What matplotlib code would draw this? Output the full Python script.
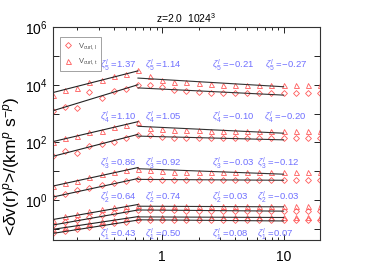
import numpy as np
import matplotlib
matplotlib.use('Agg')
import matplotlib.pyplot as plt
from matplotlib.ticker import LogLocator, NullFormatter, NullLocator

plt.rcParams['font.family'] = 'Liberation Sans'
plt.rcParams['mathtext.fontset'] = 'custom'
plt.rcParams['mathtext.rm'] = 'Liberation Sans'
plt.rcParams['mathtext.it'] = 'Liberation Sans:italic'
plt.rcParams['mathtext.bf'] = 'Liberation Sans:bold'

# separation r, log spaced bins
r = [0.126, 0.158, 0.200, 0.251, 0.316, 0.398, 0.501, 0.631, 0.794, 1.00, 1.26,
     1.58, 2.00, 2.51, 3.16, 3.98, 5.01, 6.31, 7.94, 10.0, 12.6, 15.8, 20.0]

# log10 <dv^p>, longitudinal (diamonds) and transverse (triangles)
sl5 = [3.10, 3.24, 3.20, 3.76, 3.54, 3.77, 3.85, 3.99, 3.99, 3.91, 3.83, 3.77,
       3.74, 3.72, 3.71, 3.71, 3.71, 3.71, 3.71, 3.71, 3.71, 3.71, 3.71]
st5 = [3.66, 3.82, 3.89, 4.08, 4.16, 4.31, 4.37, 4.51, 4.31, 4.16, 4.10, 4.08,
       4.06, 4.02, 4.00, 4.00, 3.98, 3.98, 3.98, 3.98, 3.98, 3.98, 4.00]
sl4 = [1.52, 1.72, 1.65, 1.88, 1.95, 2.03, 2.16, 2.27, 2.25, 2.20, 2.17, 2.15,
       2.15, 2.15, 2.14, 2.14, 2.14, 2.14, 2.14, 2.14, 2.14, 2.14, 2.14]
st4 = [2.01, 2.16, 2.24, 2.36, 2.41, 2.55, 2.61, 2.72, 2.51, 2.47, 2.44, 2.42,
       2.42, 2.41, 2.41, 2.41, 2.40, 2.40, 2.40, 2.40, 2.40, 2.40, 2.40]
sl3 = [0.11, 0.23, 0.34, 0.42, 0.52, 0.60, 0.67, 0.75, 0.72, 0.71, 0.70, 0.69,
       0.69, 0.69, 0.69, 0.69, 0.69, 0.69, 0.69, 0.69, 0.69, 0.69, 0.69]
st3 = [0.49, 0.61, 0.66, 0.81, 0.89, 0.96, 1.03, 1.09, 1.03, 1.01, 0.98, 0.96,
       0.96, 0.96, 0.96, 0.96, 0.96, 0.96, 0.96, 0.96, 0.96, 0.96, 0.96]
sl2 = [-0.86, -0.77, -0.68, -0.60, -0.52, -0.45, -0.38, -0.33, -0.33, -0.34, -0.35, -0.36,
       -0.36, -0.36, -0.36, -0.36, -0.36, -0.36, -0.36, -0.36, -0.36, -0.36, -0.36]
st2 = [-0.67, -0.56, -0.47, -0.38, -0.31, -0.25, -0.19, -0.15, -0.19, -0.20, -0.21, -0.21,
       -0.21, -0.21, -0.21, -0.21, -0.21, -0.21, -0.21, -0.21, -0.21, -0.21, -0.21]
sl1 = [-1.15, -1.07, -1.00, -0.93, -0.86, -0.80, -0.74, -0.69, -0.67, -0.67, -0.67, -0.67,
       -0.67, -0.67, -0.67, -0.67, -0.67, -0.67, -0.67, -0.67, -0.67, -0.67, -0.67]
st1 = [-1.01, -0.94, -0.86, -0.79, -0.73, -0.67, -0.62, -0.57, -0.57, -0.58, -0.58, -0.58,
       -0.58, -0.58, -0.58, -0.58, -0.58, -0.58, -0.58, -0.58, -0.58, -0.58, -0.58]

# broken power-law fits: [start, break] on r_fit1, [break, end] on r_fit2 (log10)
r_fit1 = [0.126, 0.631]
r_fit2 = [0.631, 10.0]
fl5 = [3.10, 4.00, 3.89, 3.64]
ft5 = [3.73, 4.48, 4.23, 3.93]
fl4 = [1.52, 2.28, 2.22, 2.09]
ft4 = [2.03, 2.72, 2.56, 2.32]
fl3 = [0.11, 0.75, 0.72, 0.69]
ft3 = [0.49, 1.13, 1.09, 0.90]
fl2 = [-0.86, -0.34, -0.34, -0.38]
ft2 = [-0.67, -0.15, -0.21, -0.23]
fl1 = [-1.15, -0.69, -0.68, -0.72]
ft1 = [-1.01, -0.57, -0.58, -0.60]

# fitted exponents quoted on the plot
zeta5 = [1.37, 1.14, -0.21, -0.27]
zeta4 = [1.10, 1.05, -0.10, -0.20]
zeta3 = [0.86, 0.92, -0.03, -0.12]
zeta2 = [0.64, 0.74, 0.03, -0.03]
zeta1 = [0.43, 0.50, 0.08, 0.07]

yticks = [1e-1, 1e0, 1e1, 1e2, 1e3, 1e4, 1e5, 1e6]
ylabels = ['', r'$10^0$', '', r'$10^2$', '', r'$10^4$', '', r'$10^6$']

red = '#ff5a5a'
blue = '#7070ff'

fig = plt.figure(figsize=(3.74, 2.67), dpi=100)
ax = fig.add_axes([53/374, 27/267, 267/374, 213/267])

series_l = [sl1, sl2, sl3, sl4, sl5]
series_t = [st1, st2, st3, st4, st5]
fits_l = [fl1, fl2, fl3, fl4, fl5]
fits_t = [ft1, ft2, ft3, ft4, ft5]

for i in range(5):
    ax.plot(r, 10**np.array(series_l[i]), ls='none', marker='D', ms=3, mfc='none',
            mec=red, mew=0.6, label=r'V$_{\rm curl,l}$' if i == 0 else None)
    ax.plot(r, 10**np.array(series_t[i]), ls='none', marker='^', ms=3.6, mfc='none',
            mec=red, mew=0.6, label=r'V$_{\rm curl,t}$' if i == 0 else None)
    for f in (fits_l[i], fits_t[i]):
        ax.plot(r_fit1, 10**np.array(f[:2]), color='#222222', lw=0.8)
        ax.plot(r_fit2, 10**np.array(f[2:]), color='#333333', lw=0.8)

ax.set_xscale('log')
ax.set_yscale('log')
ax.set_xlim(0.1259, 19.95)
ax.set_ylim(10**-1.38, 1e6)

ax.set_xticks([1, 10])
ax.set_xticklabels(['1', '10'])
ax.xaxis.set_minor_locator(LogLocator(subs=np.arange(2, 10)))
ax.xaxis.set_minor_formatter(NullFormatter())
ax.set_yticks(yticks)
ax.set_yticklabels(ylabels)
ax.yaxis.set_minor_locator(NullLocator())
ax.tick_params(which='both', direction='in', top=True, right=True, width=0.6)
ax.tick_params(which='major', length=4, labelsize=10)
ax.tick_params(which='minor', length=2)
ax.tick_params(axis='x', pad=7)
ax.tick_params(axis='y', pad=4)
for s in ax.spines.values():
    s.set_linewidth(0.8)
    s.set_color('#333333')

# exponent labels
zetas = [zeta1, zeta2, zeta3, zeta4, zeta5]
label_y = [234, 197, 163, 117, 65]
label_x = [[100, 145, 212, 257], [100, 145, 212, 257], [100, 145, 212, 257],
           [100, 145, 212, 264], [100, 145, 212, 265]]
for i in range(5):
    p = i + 1
    for j in range(4):
        v = ('%.2f' % zetas[i][j]).replace('-', '\u2212')
        ax.text((label_x[i][j] - 53) / 267, (240 - label_y[i]) / 213,
                r'$\zeta^l_%d$ =%s' % (p, v), transform=ax.transAxes,
                color=blue, fontsize=6.8, ha='left', va='center')

leg = ax.legend(loc='upper left', bbox_to_anchor=(0.026, 0.953), borderaxespad=0,
                fontsize=5.5, frameon=True, fancybox=False, handlelength=1.2,
                handletextpad=0.6, borderpad=0.5, labelspacing=0.6)
leg.get_frame().set_edgecolor('#777777')
leg.get_frame().set_linewidth(0.6)
for t in leg.get_texts():
    t.set_color('#555555')

ax.set_title(r'z=2.0  1024$^3$', fontsize=7.5, pad=3)
fig.text(12/374, 1 - 166/267, r'<$\delta$v(r)$^p$>/(km$^p$ s$^{-p}$)',
         rotation=90, fontsize=12.5, ha='center', va='center')

fig.savefig('out.png', dpi=100)
